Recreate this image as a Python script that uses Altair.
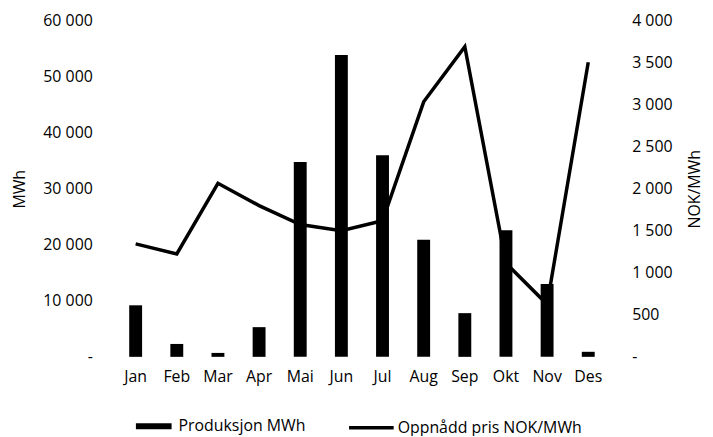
import altair as alt
import pandas as pd

months = ["Jan", "Feb", "Mar", "Apr", "Mai", "Jun", "Jul", "Aug", "Sep", "Okt", "Nov", "Des"]
produksjon = [9200, 2300, 700, 5300, 34800, 53900, 36000, 20900, 7800, 22600, 13000, 900]
pris = [1345, 1225, 2065, 1800, 1575, 1500, 1620, 3035, 3690, 1115, 625, 3505]

bar_name = "Produksjon MWh"
line_name = "Oppnådd pris NOK/MWh"

df = pd.DataFrame({
    "month": months,
    "prod": produksjon,
    "pris": pris,
    "s1": [bar_name] * len(months),
    "s2": [line_name] * len(months),
})

FONT = "Open Sans"
FS = 16

x_enc = alt.X("month:N", sort=months, title=None,
              scale=alt.Scale(paddingInner=0, paddingOuter=0),
              axis=alt.Axis(domain=False, ticks=False, grid=False, labelAngle=0, labelPadding=12,
                            labelFont=FONT, labelFontSize=FS, labelColor="#000"))

lab_left = "datum.value == 0 ? '-\u2007' : replace(format(datum.value, ','), ',', ' ')"
lab_right = "datum.value == 0 ? '-' : replace(format(datum.value, ','), ',', ' ')"

bars = alt.Chart(df).mark_bar(size=13).encode(
    x=x_enc,
    y=alt.Y("prod:Q", title="MWh",
            scale=alt.Scale(domain=[0, 60000], nice=False),
            axis=alt.Axis(values=[0, 10000, 20000, 30000, 40000, 50000, 60000],
                          labelExpr=lab_left, domain=False, ticks=False, grid=False,
                          labelPadding=23, labelFont=FONT, labelFontSize=FS, labelColor="#000",
                          titleFont=FONT, titleFontSize=FS, titleFontWeight="normal",
                          titleColor="#000", titleAngle=270, titleX=-96, titleY=169.5,
                          titleBaseline="middle", titleAlign="center")),
    color=alt.Color("s1:N", title=None,
                    scale=alt.Scale(range=["#000000"]),
                    legend=alt.Legend(orient="none", legendX=21, legendY=391,
                                      symbolType="M-1,-0.1667L1,-0.1667L1,0.1667L-1,0.1667Z",
                                      symbolSize=1296, symbolStrokeWidth=0, labelOffset=7,
                                      padding=0, labelFont=FONT, labelFontSize=FS,
                                      labelLimit=300, labelColor="#000")),
)

line = alt.Chart(df).mark_line(strokeWidth=3.5).encode(
    x=alt.X("month:N", sort=months),
    y=alt.Y("pris:Q", title="NOK/MWh",
            scale=alt.Scale(domain=[0, 4000], nice=False),
            axis=alt.Axis(orient="right",
                          values=[0, 500, 1000, 1500, 2000, 2500, 3000, 3500, 4000],
                          labelExpr=lab_right, domain=False, ticks=False, grid=False,
                          labelPadding=23, labelFont=FONT, labelFontSize=FS, labelColor="#000",
                          titleFont=FONT, titleFontSize=FS, titleFontWeight="normal",
                          titleColor="#000", titleAngle=270, titleX=86, titleY=169.5,
                          titleBaseline="middle", titleAlign="center")),
    stroke=alt.Stroke("s2:N", title=None,
                      scale=alt.Scale(range=["#000000"]),
                      legend=alt.Legend(orient="none", legendX=234, legendY=386,
                                        symbolType="stroke", symbolSize=2025,
                                        symbolStrokeWidth=3.5, labelOffset=2, padding=0,
                                        labelFont=FONT, labelFontSize=FS, labelLimit=300,
                                        labelColor="#000")),
)

chart = alt.layer(bars, line).resolve_scale(y="independent").properties(
    width=498, height=339,
    background="white",
    autosize=alt.AutoSizeParams(type="none"),
    padding={"left": 108, "top": 11, "right": 97, "bottom": 78},
).configure_view(stroke="transparent", strokeWidth=0).configure_axis(grid=False)

chart.save("out.html", embed_options={"renderer": "svg", "actions": False})
